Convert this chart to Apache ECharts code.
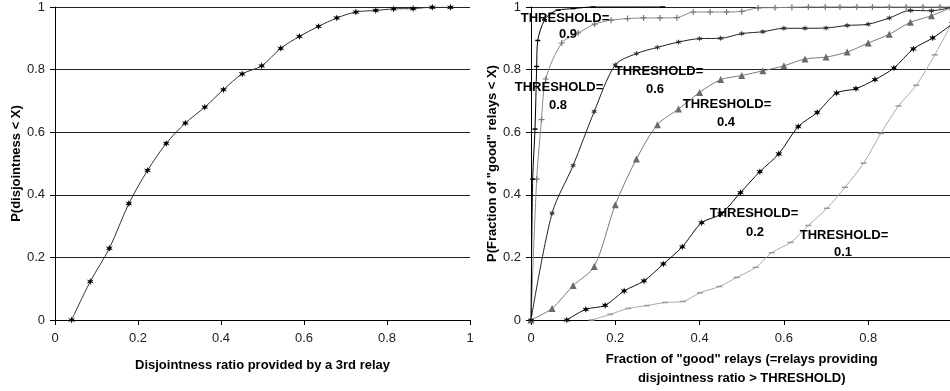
<!DOCTYPE html>
<html>
<head>
<meta charset="utf-8">
<script src="https://cdn.jsdelivr.net/npm/echarts@6/dist/echarts.min.js"></script>
<style>
html,body{margin:0;padding:0;background:#fff;}
#c{width:950px;height:391px;}
</style>
</head>
<body>
<div id="c"></div>
<script>
// ---------- DATA ----------
const axisTicks = [0, 0.2, 0.4, 0.6, 0.8, 1];

// Left chart: CDF of disjointness ratio
const leftX = [0.040,0.085,0.131,0.178,0.223,0.268,0.314,0.361,0.406,0.451,0.498,0.544,0.589,0.635,0.679,0.725,0.773,0.816,0.863,0.909,0.953];
const leftY = [0.000,0.123,0.229,0.372,0.478,0.564,0.629,0.680,0.736,0.786,0.812,0.868,0.906,0.938,0.965,0.984,0.989,0.994,0.995,0.999,0.999];

// Right chart: one curve per threshold
const thresholds = ['0.9','0.8','0.6','0.4','0.2','0.1'];

const t09X = [0, 0.004, 0.0095, 0.0135, 0.016, 0.032, 0.048, 0.064, 0.100, 0.147, 0.313];
const t09Y = [0, 0.45, 0.61, 0.81, 0.893, 0.959, 0.980, 0.990, 0.995, 1.000, 1.000];

const t08X = [0, 0.0135, 0.025, 0.035, 0.073, 0.112, 0.151, 0.190, 0.229, 0.267, 0.306, 0.346, 0.385, 0.425, 0.464, 0.500, 0.539, 0.579, 0.619, 0.658, 0.698, 0.733, 0.773, 0.810, 0.850, 0.890, 0.930, 0.970, 1.000];
const t08Y = [0, 0.45, 0.64, 0.77, 0.885, 0.917, 0.945, 0.958, 0.963, 0.965, 0.965, 0.966, 0.984, 0.984, 0.984, 0.986, 0.997, 0.998, 0.999, 1, 1, 1, 1, 1, 1, 1, 1, 1, 1];

const t06X = [0,0.05,0.10,0.15,0.20,0.25,0.30,0.35,0.40,0.45,0.50,0.55,0.60,0.65,0.70,0.75,0.80,0.85,0.90,0.95,1.00];
const t06Y = [0,0.341,0.494,0.666,0.815,0.851,0.871,0.888,0.899,0.900,0.915,0.921,0.932,0.932,0.933,0.941,0.945,0.965,0.989,0.988,1.000];

const t04X = [0,0.05,0.10,0.15,0.20,0.25,0.30,0.35,0.40,0.45,0.50,0.55,0.60,0.65,0.70,0.75,0.80,0.85,0.90,0.95,1.00];
const t04Y = [0,0.037,0.110,0.171,0.368,0.514,0.624,0.674,0.727,0.768,0.781,0.796,0.812,0.834,0.840,0.856,0.885,0.913,0.951,0.972,1.000];

const t02X = [0.085,0.130,0.176,0.221,0.268,0.314,0.359,0.405,0.450,0.497,0.543,0.588,0.634,0.679,0.725,0.771,0.816,0.861,0.907,0.953,1.000];
const t02Y = [0.000,0.034,0.047,0.093,0.125,0.179,0.234,0.311,0.338,0.407,0.474,0.531,0.618,0.663,0.725,0.739,0.768,0.805,0.866,0.901,0.946];

const t01X = [0.144,0.188,0.231,0.275,0.318,0.360,0.401,0.447,0.488,0.533,0.571,0.616,0.658,0.702,0.745,0.789,0.830,0.872,0.914,0.958,1.000];
const t01Y = [0.000,0.018,0.037,0.046,0.056,0.059,0.087,0.107,0.136,0.168,0.215,0.248,0.302,0.357,0.424,0.501,0.596,0.684,0.750,0.847,0.953];

// ---------- CHART ----------
const zip = (xs, ys) => xs.map((x, i) => [x, ys[i]]);

const STAR = 'path://M5,0L6.2,3.4L9.8,2.2L7.4,5L9.8,7.8L6.2,6.6L5,10L3.8,6.6L0.2,7.8L2.6,5L0.2,2.2L3.8,3.4Z';
const PLUS = 'path://M4,0H6V4H10V6H6V10H4V6H0V4H4Z';

const FONT = "'Liberation Sans', Arial, sans-serif";
const labelStyle = {color:'#222', fontSize:13, fontFamily:FONT};
const nameStyle = {color:'#000', fontSize:13, fontWeight:'bold', fontFamily:FONT};

function xAxisCfg(idx, name, gap, extra) {
  return Object.assign({
    type:'value', gridIndex:idx, min:0, max:1, interval:0.2,
    name:name, nameLocation:'middle', nameGap:gap, nameTextStyle:Object.assign({lineHeight:19}, nameStyle),
    axisLine:{show:true, onZero:false, lineStyle:{color:'#000', width:1}},
    axisTick:{show:true, length:5, lineStyle:{color:'#000'}},
    axisLabel:Object.assign({margin:12}, labelStyle),
    splitLine:{show:false}
  }, extra || {});
}
function yAxisCfg(idx, name, gap) {
  return {
    type:'value', gridIndex:idx, min:0, max:1, interval:0.2,
    name:name, nameLocation:'middle', nameGap:gap, nameTextStyle:nameStyle,
    axisLine:{show:true, onZero:false, lineStyle:{color:'#000', width:1}},
    axisTick:{show:true, length:5, lineStyle:{color:'#000'}},
    axisLabel:Object.assign({margin:10}, labelStyle),
    splitLine:{show:true, lineStyle:{color:'#222', width:1}}
  };
}

function ser(name, xs, ys, lineColor, symbol, symColor, size) {
  return {
    name:name, type:'line', xAxisIndex:1, yAxisIndex:1,
    data:zip(xs, ys), smooth:0.3, symbol:symbol, symbolSize:size,
    showAllSymbol:true, clip:false,
    lineStyle:{color:lineColor, width:1},
    itemStyle:{color:symColor, borderWidth:0},
    emphasis:{disabled:true}
  };
}

const labelPos = [
  [565, 18, 568, 34],
  [559, 87, 558, 105],
  [659, 71, 655, 89],
  [727, 104, 726, 122],
  [754, 213, 755, 232],
  [844, 235, 843, 252]
];
const graphics = [];
thresholds.forEach((t, i) => {
  const p = labelPos[i];
  graphics.push({type:'text', x:p[0], y:p[1], z:100,
    style:{text:'THRESHOLD=', font:"bold 13px " + FONT, fill:'#000', align:'center', verticalAlign:'middle'}});
  graphics.push({type:'text', x:p[2], y:p[3], z:100,
    style:{text:t, font:"bold 13px " + FONT, fill:'#000', align:'center', verticalAlign:'middle'}});
});

const chart = echarts.init(document.getElementById('c'), null, {renderer:'canvas'});
chart.setOption({
  animation:false,
  backgroundColor:'#fff',
  grid:[
    {left:55, top:7, width:415, height:313, containLabel:false, outerBoundsMode:'none'},
    {left:531, top:7, width:421.5, height:313, containLabel:false, outerBoundsMode:'none'}
  ],
  xAxis:[
    xAxisCfg(0, 'Disjointness ratio provided by a 3rd relay', 36),
    xAxisCfg(1, 'Fraction of "good" relays (=relays providing\ndisjointness ratio > THRESHOLD)', 29,
      {axisLabel:Object.assign({margin:12, showMaxLabel:false}, labelStyle)})
  ],
  yAxis:[
    yAxisCfg(0, 'P(disjointness < X)', 32),
    yAxisCfg(1, 'P(Fraction of "good" relays < X)', 32)
  ],
  series:[
    {
      type:'line', xAxisIndex:0, yAxisIndex:0, data:zip(leftX, leftY),
      smooth:0.3, symbol:STAR, symbolSize:7, showAllSymbol:true,
      lineStyle:{color:'#333', width:1}, itemStyle:{color:'#000'}, emphasis:{disabled:true}
    },
    ser('0.1', t01X, t01Y, '#aaaaaa', 'rect', '#999999', [6,1.5]),
    ser('0.8', t08X, t08Y, '#8a8a8a', PLUS, '#777777', 6),
    ser('0.4', t04X, t04Y, '#7a7a7a', 'triangle', '#6a6a6a', 7),
    ser('0.6', t06X, t06Y, '#222222', STAR, '#333333', 6),
    ser('0.2', t02X, t02Y, '#111111', STAR, '#000000', 7),
    ser('0.9', t09X, t09Y, '#000000', 'rect', '#000000', [5,1.5])
  ],
  graphic:graphics
});
</script>
</body>
</html>
